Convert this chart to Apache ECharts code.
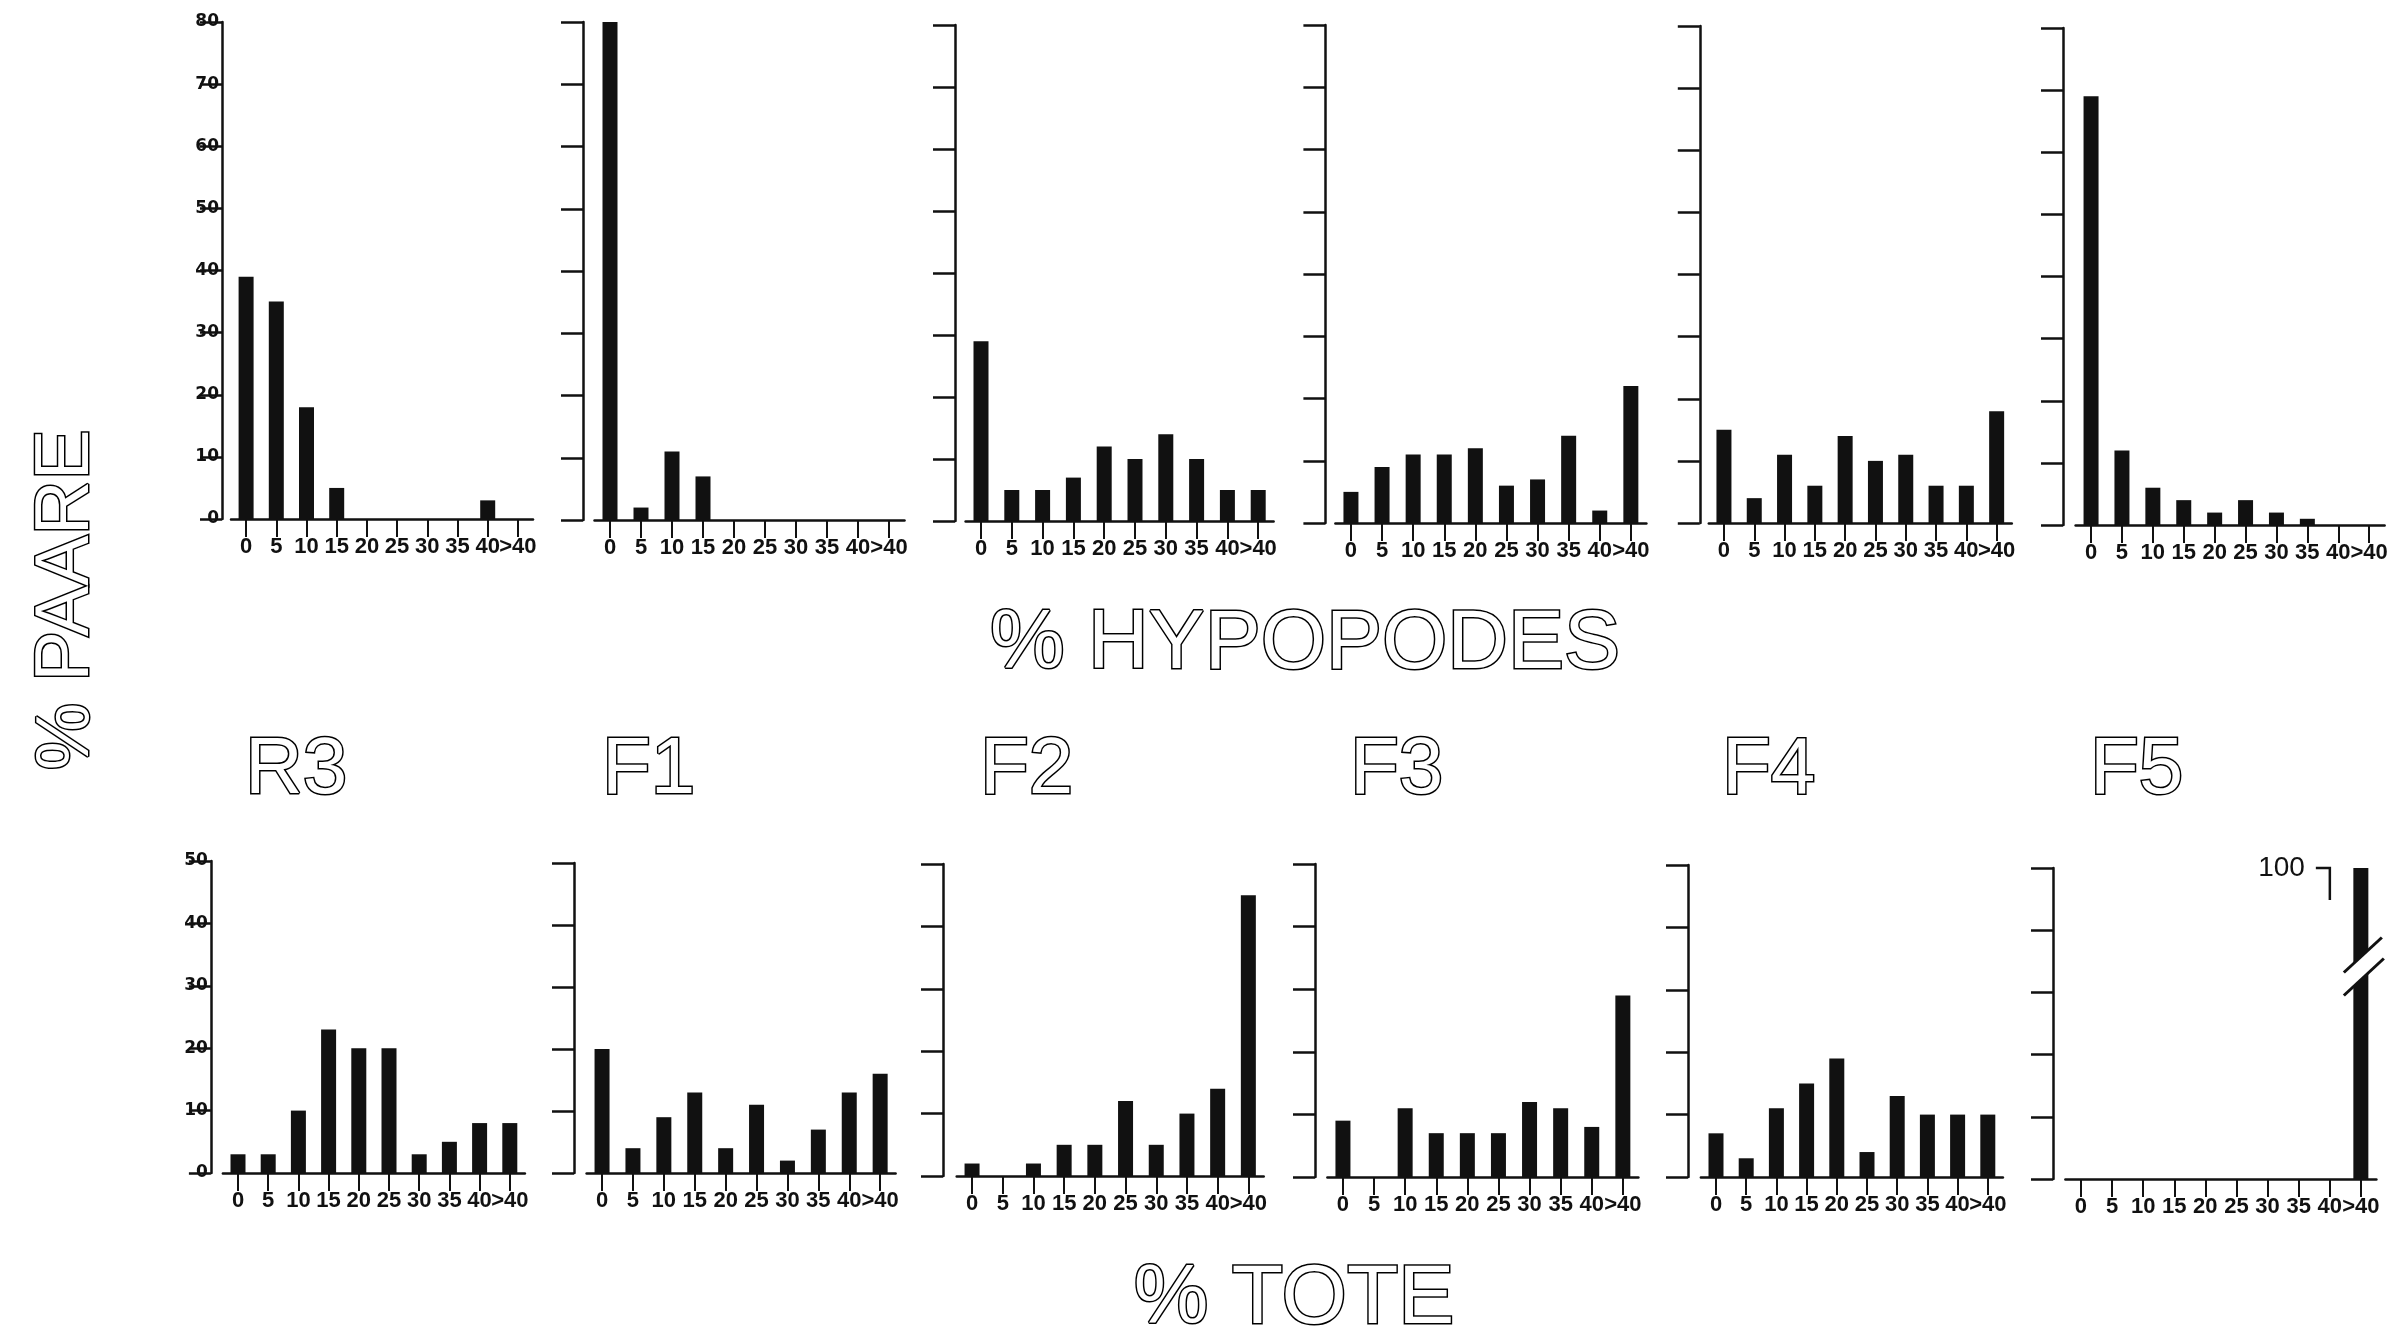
<!DOCTYPE html>
<html>
<head>
<meta charset="utf-8">
<script src="https://cdn.jsdelivr.net/npm/echarts@6/dist/echarts.min.js"></script>
<style>
html,body{margin:0;padding:0;background:#fff;}
#main{width:2401px;height:1335px;}
</style>
</head>
<body>
<div id="main"></div>
<script>
// ---- data ----
const categories = ['0','5','10','15','20','25','30','35','40','>40'];
const panelNames = ['R3','F1','F2','F3','F4','F5'];
// % HYPOPODES (top row)
const hypR3 = [39,35,18,5,0,0,0,0,3,0];
const hypF1 = [80,2,11,7,0,0,0,0,0,0];
const hypF2 = [29,5,5,7,12,10,14,10,5,5];
const hypF3 = [5,9,11,11,12,6,7,14,2,22];
const hypF4 = [15,4,11,6,14,10,11,6,6,18];
const hypF5 = [69,12,6,4,2,4,2,1,0,0];
// % TOTE (bottom row)
const toteR3 = [3,3,10,23,20,20,3,5,8,8];
const toteF1 = [20,4,9,13,4,11,2,7,13,16];
const toteF2 = [2,0,2,5,5,12,5,10,14,45];
const toteF3 = [9,0,11,7,7,7,12,11,8,29];
const toteF4 = [7,3,11,15,19,4,13,10,10,10];
const toteF5 = [0,0,0,0,0,0,0,0,0,100];
// axis scales
const hypMax = 80, toteMax = 50, tickStep = 10;
const brokenValueLabel = '100';
const breakValue = 34;

const hypSeries = [hypR3,hypF1,hypF2,hypF3,hypF4,hypF5];
const toteSeries = [toteR3,toteF1,toteF2,toteF3,toteF4,toteF5];

// ---- layout (pixels): left, top, width, height, yAxis offset ----
const topLayout = [
  [231,22,302,497,9],
  [594.5,22,310,498,11.5],
  [965.6,25,308,496,10.6],
  [1335.4,25,311,498,10],
  [1708.8,26,303,497,9],
  [2075.6,28,309,497,12.6]
];
const botLayout = [
  [222.9,861,302,312,12],
  [586.6,863,309,310,12.6],
  [956.7,864,307,312,13.7],
  [1327.4,864,311,313,12.4],
  [1700.9,865,302,312,12.9],
  [2065.4,868,311,311,12.4]
];

const chart = echarts.init(document.getElementById('main'));
const grids=[], xAxes=[], yAxes=[], series=[];
const ink = '#111';

function addPanel(layout, data, max, showLabels){
  const i = grids.length;
  grids.push({left:layout[0], top:layout[1], width:layout[2], height:layout[3], containLabel:false});
  xAxes.push({
    type:'category', gridIndex:i, data:categories, boundaryGap:true,
    axisLine:{show:true, lineStyle:{color:ink, width:2.5}},
    axisTick:{show:true, alignWithLabel:true, length:18, lineStyle:{color:ink, width:2}},
    axisLabel:{show:true, interval:0, margin:17, color:ink, fontFamily:'Liberation Sans', fontWeight:'bold', fontSize:22},
    splitLine:{show:false}
  });
  yAxes.push({
    type:'value', gridIndex:i, min:0, max:max, interval:tickStep, offset:layout[4],
    axisLine:{show:true, lineStyle:{color:ink, width:2.5}},
    axisTick:{show:true, inside:false, length:22, lineStyle:{color:ink, width:2.5}},
    axisLabel:{show:showLabels, margin:3, color:ink, fontFamily:'DejaVu Sans', fontWeight:'bold', fontSize:17},
    splitLine:{show:false}
  });
  series.push({
    type:'bar', xAxisIndex:i, yAxisIndex:i, data:data, barWidth:15,
    itemStyle:{color:ink}, clip:true, silent:true, animation:false
  });
}
for(let k=0;k<6;k++) addPanel(topLayout[k], hypSeries[k], hypMax, k===0);
for(let k=0;k<6;k++) addPanel(botLayout[k], toteSeries[k], toteMax, k===0);

chart.setOption({
  animation:false,
  backgroundColor:'#fff',
  grid:grids, xAxis:xAxes, yAxis:yAxes, series:series
});

// ---- text & annotations ----
const outline = {fill:'#fff', stroke:'#000', lineWidth:3, fontFamily:'Liberation Sans', fontWeight:'normal'};
const graphics = [];
function otext(x,y,txt,size,align,rot){
  graphics.push({type:'text', x:x, y:y, rotation:rot||0,
    style:Object.assign({text:txt, fontSize:size, align:align||'center', verticalAlign:'middle'}, outline)});
}
otext(1305,645,'% HYPOPODES',84,'center');
otext(1294,1300,'% TOTE',84,'center');
otext(67,600,'% PAARE',76,'center',Math.PI/2);
const nameX = [245,602,980,1350,1722,2090];
panelNames.forEach((n,k)=>otext(nameX[k],771,n,80,'left'));

// broken bar in F5 / TOTE panel
const gi = 11;
const lastIdx = categories.length-1;
const topPt = chart.convertToPixel({xAxisIndex:gi, yAxisIndex:gi}, [lastIdx, toteMax]);
const brkPt = chart.convertToPixel({xAxisIndex:gi, yAxisIndex:gi}, [lastIdx, breakValue]);
const cx = topPt[0], ty = topPt[1], by = brkPt[1];
graphics.push({type:'polygon', z:100, shape:{points:[[cx-17,by+5],[cx+21,by-30],[cx+23,by-9],[cx-17,by+28]]}, style:{fill:'#fff'}});
graphics.push({type:'line', z:101, shape:{x1:cx-17,y1:by+5,x2:cx+21,y2:by-30}, style:{stroke:ink,lineWidth:3}});
graphics.push({type:'line', z:101, shape:{x1:cx-17,y1:by+28,x2:cx+23,y2:by-9}, style:{stroke:ink,lineWidth:3}});
graphics.push({type:'polyline', z:101, shape:{points:[[cx-45,ty],[cx-31,ty],[cx-31,ty+32]]}, style:{stroke:ink,lineWidth:2.5,fill:null}});
graphics.push({type:'text', z:101, x:cx-56, y:ty, style:{text:brokenValueLabel, fontSize:28, fontFamily:'Liberation Sans', fill:ink, align:'right', verticalAlign:'middle'}});

chart.setOption({graphic:graphics});
</script>
</body>
</html>
